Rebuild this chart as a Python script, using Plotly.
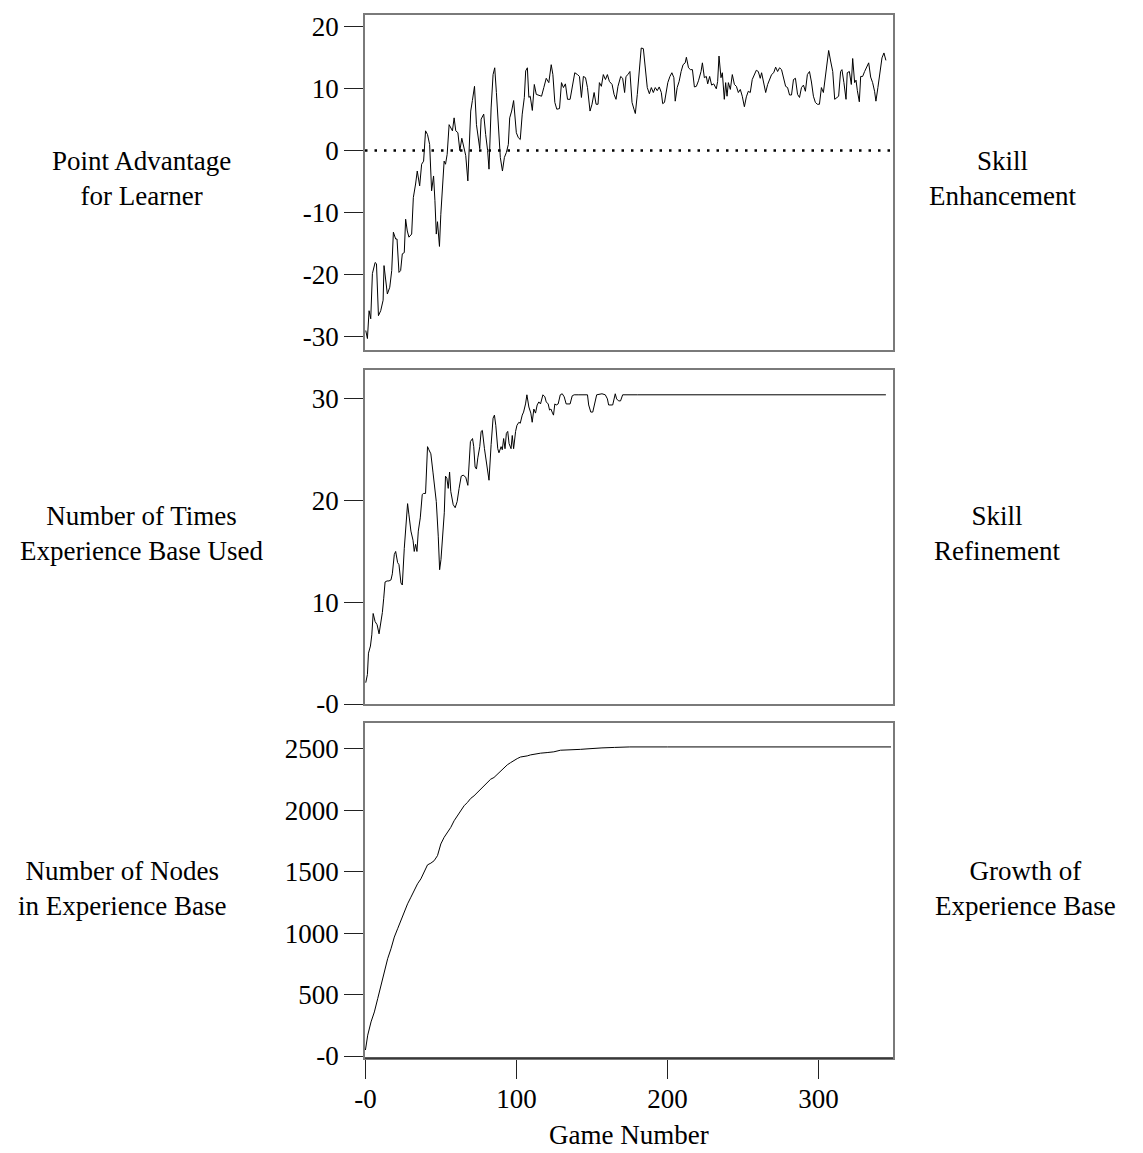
import plotly.graph_objects as go
from plotly.subplots import make_subplots

# ---------------- data ----------------
adv_game = [0.2, 1.3, 2.4, 3.5, 4.6, 6.4, 7.3, 8.6, 10.1, 11.7, 12.3, 14.5, 16.1, 17.4, 18.5, 20.0, 20.9,
            22.2, 23.3, 24.4, 25.7, 26.6, 27.7, 28.8, 30.6, 31.7, 33.2, 34.3, 35.9, 37.2, 38.5, 39.8,
            41.1, 42.5, 43.8, 45.1, 46.0, 46.9, 47.7, 49.0, 49.9, 51.3, 52.1, 53.0, 54.1, 55.4, 57.6,
            58.7, 59.8, 61.2, 62.5, 63.8, 65.1, 66.4, 67.8, 68.6, 69.7, 70.8, 72.2, 73.5, 74.8, 75.7,
            76.6, 78.3, 79.6, 80.9, 81.8, 83.2, 84.5, 85.6, 86.7, 88.0, 89.3, 90.7, 92.0, 93.3, 94.6,
            95.5, 96.8, 98.1, 99.0, 99.9, 101.2, 102.5, 103.8, 105.2, 106.1, 107.2, 108.2, 109.1, 110.5,
            111.8, 113.1, 114.8, 116.6, 118.1, 119.7, 121.4, 123.0, 124.1, 125.4, 126.7, 128.5, 129.8,
            131.1, 132.4, 133.8, 135.5, 136.9, 138.6, 140.4, 141.7, 143.0, 144.3, 145.7, 147.0, 148.7,
            150.0, 151.4, 152.7, 154.0, 154.9, 156.2, 157.5, 158.9, 160.2, 161.5, 163.3, 164.6, 165.9,
            167.2, 169.0, 170.3, 171.6, 172.5, 173.8, 175.1, 176.5, 177.8, 178.7, 180.0, 181.3, 182.6,
            184.0, 185.3, 186.6, 188.0, 189.3, 190.6, 191.9, 193.2, 194.5, 195.9, 196.8, 198.0, 198.9,
            200.2, 201.6, 202.9, 204.2, 205.1, 206.4, 207.7, 209.0, 210.3, 211.7, 212.5, 213.9, 215.2,
            216.5, 217.8, 219.1, 220.5, 222.2, 223.1, 224.4, 225.7, 226.6, 227.9, 229.2, 230.6, 232.3,
            233.2, 234.1, 235.4, 236.3, 237.6, 238.5, 239.4, 240.3, 241.6, 242.9, 244.3, 245.6, 246.9,
            248.2, 249.5, 250.9, 252.2, 253.5, 254.8, 256.1, 257.5, 258.8, 260.1, 261.4, 262.3, 263.6,
            265.0, 266.3, 267.6, 268.9, 270.3, 271.6, 272.9, 274.2, 275.5, 276.8, 278.2, 279.5, 280.8,
            282.1, 283.4, 284.7, 286.1, 287.4, 288.7, 290.0, 291.3, 292.6, 294.0, 295.3, 296.6, 297.9,
            299.2, 300.6, 301.9, 303.2, 304.1, 305.4, 306.7, 308.0, 309.4, 310.7, 312.0, 313.3, 314.6,
            315.5, 316.8, 318.2, 319.0, 320.4, 321.7, 322.6, 323.9, 324.8, 325.7, 327.0, 327.9, 329.2,
            330.5, 331.8, 333.2, 334.5, 335.8, 337.1, 338.0, 339.3, 340.7, 342.0, 343.3, 344.6]
adv_value = [-29.1, -30.4, -25.9, -27.2, -19.9, -18.1, -18.3, -26.7, -25.9, -24.2, -18.6, -23.2, -22.1,
             -19.4, -13.2, -14.3, -14.3, -19.7, -19.4, -16.7, -16.5, -11.1, -13.0, -14.0, -13.5, -7.6,
             -5.4, -3.3, -5.7, -2.2, -1.7, 3.2, 2.6, 1.0, -6.5, -4.1, -8.1, -13.5, -11.5, -15.5, -10.3,
             -3.3, -1.7, -2.2, -0.6, 4.2, 3.2, 5.3, 3.2, 2.9, 0.0, 2.0, 0.5, -0.8, -4.9, -1.1, 6.4, 8.1,
             10.4, 4.2, 2.1, 0.3, 5.1, 5.9, 2.6, 0.0, -3.0, 6.9, 12.3, 13.4, 9.4, 3.2, -1.1, -3.3, -1.1,
             -0.3, 1.0, 5.3, 6.4, 8.1, 5.9, 2.9, 2.1, 1.8, 5.9, 8.6, 12.9, 13.4, 8.6, 8.8, 6.5, 10.7,
             9.1, 9.0, 8.8, 10.2, 11.7, 11.0, 13.9, 12.3, 7.8, 6.7, 6.8, 11.0, 10.2, 10.8, 8.3, 8.3,
             10.2, 12.6, 12.3, 12.0, 8.6, 12.0, 11.8, 10.2, 6.4, 7.5, 9.4, 7.5, 7.5, 11.0, 10.4, 12.3,
             11.5, 12.3, 11.2, 10.7, 9.1, 8.3, 10.4, 12.0, 11.7, 9.4, 12.0, 12.3, 12.8, 7.8, 6.7, 6.0,
             9.1, 13.4, 16.6, 16.5, 13.4, 10.2, 9.2, 10.2, 9.4, 10.2, 9.7, 10.3, 9.4, 7.6, 7.8, 9.2,
             11.0, 12.0, 12.6, 11.8, 8.0, 10.2, 11.2, 12.8, 13.9, 14.2, 15.1, 13.4, 13.1, 13.1, 10.3,
             10.4, 11.3, 12.8, 14.2, 11.8, 12.0, 10.8, 12.0, 10.6, 10.8, 10.0, 11.2, 15.3, 11.8, 12.6,
             8.3, 11.0, 8.8, 11.0, 9.9, 12.3, 10.7, 10.4, 9.4, 9.9, 8.8, 7.1, 8.7, 9.6, 9.4, 11.5, 12.3,
             13.0, 12.8, 11.7, 12.6, 11.0, 9.4, 10.7, 11.5, 12.3, 12.6, 13.5, 12.8, 13.4, 13.1, 11.8,
             10.4, 10.2, 9.0, 9.0, 11.5, 11.7, 9.1, 8.6, 10.2, 10.6, 9.6, 12.3, 12.8, 11.1, 8.8, 7.8,
             7.5, 7.5, 10.2, 9.4, 11.2, 14.5, 16.2, 14.5, 12.8, 8.3, 8.5, 8.8, 12.8, 13.1, 11.0, 8.3,
             12.6, 12.8, 10.7, 14.9, 11.0, 11.4, 9.7, 7.9, 12.0, 12.0, 12.8, 13.4, 14.2, 11.9, 11.0,
             9.6, 8.0, 10.2, 12.3, 15.0, 15.8, 14.6]

used_game = [0.2, 1.3, 2.0, 3.3, 4.2, 5.1, 6.4, 7.7, 9.0, 9.9, 11.2, 12.1, 13.0, 14.3, 15.6, 16.9, 17.8,
             19.1, 20.0, 21.3, 22.2, 23.5, 24.4, 25.7, 27.1, 27.9, 28.8, 30.1, 31.5, 32.3, 33.2, 34.1,
             35.0, 36.3, 37.6, 38.5, 39.8, 41.1, 42.0, 43.3, 44.7, 46.0, 46.9, 48.2, 49.1, 50.0, 51.3,
             52.2, 53.0, 53.9, 54.8, 55.7, 56.5, 58.1, 59.4, 60.7, 62.0, 63.4, 64.7, 66.4, 67.8, 68.6,
             69.5, 70.9, 71.7, 72.6, 73.5, 74.4, 75.7, 76.6, 77.4, 78.8, 80.1, 81.4, 81.8, 83.2, 84.5,
             85.4, 86.3, 87.6, 88.4, 89.8, 90.6, 91.5, 92.4, 93.3, 94.2, 95.1, 96.4, 97.2, 98.1, 99.4,
             100.3, 101.6, 102.5, 103.8, 104.7, 106.0, 106.9, 108.2, 109.5, 110.4, 111.5, 112.6, 113.7,
             114.8, 115.9, 117.5, 118.8, 119.7, 121.0, 121.9, 122.8, 123.6, 124.5, 125.4, 126.3, 127.6,
             129.0, 130.3, 131.6, 132.9, 134.2, 135.5, 136.9, 138.2, 141.3, 143.9, 147.0, 147.8, 149.2,
             150.5, 151.8, 153.1, 156.6, 158.8, 160.2, 161.0, 163.7, 164.6, 165.4, 166.3, 167.6, 168.9,
             170.3, 180.0, 195.0, 210.0, 225.0, 240.0, 255.0, 270.0, 285.0, 300.0, 315.0, 330.0, 344.6]
used_value = [2.1, 2.9, 5.0, 5.7, 6.8, 8.9, 8.1, 7.8, 6.9, 7.6, 9.0, 10.4, 12.0, 12.1, 12.1, 12.2, 12.8,
              14.7, 15.0, 13.9, 13.7, 11.9, 11.7, 15.3, 17.9, 19.7, 18.6, 17.0, 16.1, 15.0, 15.7, 15.0,
              17.0, 18.3, 20.6, 20.7, 20.7, 25.3, 25.0, 24.6, 22.8, 21.0, 19.9, 16.5, 13.2, 14.2, 17.0,
              18.8, 22.4, 22.2, 21.2, 22.8, 20.9, 19.6, 19.3, 19.9, 21.2, 22.4, 22.5, 22.3, 21.5, 23.2,
              25.8, 26.1, 25.3, 23.3, 23.1, 24.2, 25.3, 26.8, 26.9, 25.1, 23.8, 22.8, 22.0, 25.5, 28.1,
              28.4, 27.4, 25.1, 24.7, 25.3, 25.0, 26.1, 25.1, 26.6, 26.8, 25.6, 25.1, 26.4, 25.1, 26.8,
              27.4, 27.7, 27.6, 28.4, 28.7, 29.5, 30.4, 29.2, 28.6, 27.7, 29.0, 28.6, 29.4, 29.7, 29.5,
              30.4, 30.2, 29.7, 29.5, 28.9, 29.0, 28.7, 28.4, 29.5, 29.4, 29.5, 30.4, 30.5, 30.2, 29.5,
              29.5, 29.5, 30.3, 30.4, 30.4, 30.4, 30.4, 29.4, 28.7, 28.7, 29.7, 30.4, 30.5, 30.4, 30.0,
              29.4, 29.4, 30.0, 30.5, 30.0, 29.8, 29.8, 30.4, 30.4, 30.4, 30.4, 30.4, 30.4, 30.4, 30.4,
              30.4, 30.4, 30.4, 30.4, 30.4]

nodes_game = [0.0, 1.5, 3.7, 5.9, 8.1, 10.3, 12.5, 14.7, 16.9, 19.1, 21.3, 23.5, 25.7, 27.9, 30.1, 32.3,
              34.5, 36.7, 38.9, 41.1, 43.3, 45.5, 47.7, 49.9, 52.1, 54.3, 56.5, 58.7, 60.9, 63.1, 65.3,
              67.5, 69.7, 71.9, 74.1, 76.3, 78.5, 80.7, 82.9, 85.1, 87.3, 89.5, 91.7, 93.9, 96.1, 98.3,
              100.5, 102.7, 104.9, 107.1, 109.3, 111.5, 115.9, 120.3, 124.7, 129.1, 133.5, 137.9, 142.3,
              146.7, 151.1, 156.6, 165.0, 175.0, 200.0, 250.0, 300.0, 348.0]
nodes_value = [49, 170, 278, 359, 467, 576, 684, 792, 873, 968, 1036, 1104, 1185, 1239, 1293, 1347, 1402,
               1442, 1502, 1556, 1570, 1590, 1631, 1726, 1780, 1820, 1861, 1915, 1956, 1996, 2037, 2064,
               2097, 2118, 2145, 2172, 2194, 2226, 2253, 2267, 2294, 2321, 2348, 2370, 2388, 2407, 2421,
               2434, 2437, 2443, 2451, 2457, 2465, 2470, 2476, 2489, 2490, 2494, 2496, 2500, 2505, 2508,
               2512, 2516, 2516, 2516, 2516, 2516]

x_ticks = [0, 100, 200, 300]
x_ticktext = ["-0", "100", "200", "300"]
adv_ticks = [20, 10, 0, -10, -20, -30]
adv_ticktext = ["20", "10", "0", "-10", "-20", "-30"]
used_ticks = [30, 20, 10, 0]
used_ticktext = ["30", "20", "10", "-0"]
nodes_ticks = [2500, 2000, 1500, 1000, 500, 0]
nodes_ticktext = ["2500", "2000", "1500", "1000", "500", "-0"]

left_labels = ["Point Advantage<br>for Learner", "Number of Times<br>Experience Base Used",
               "Number of Nodes<br>in Experience Base"]
right_labels = ["Skill<br>Enhancement", "Skill<br>Refinement", "Growth of<br>Experience Base"]
x_title = "Game Number"

# ---------------- figure ----------------
OFF = 8                      # page body margin of the html page
W, H = 1143 - OFF, 1153 - OFF
PL, PR, PT, PB = 365, 893, 12, 1058   # plot area in window pixels (reference)
L, R, T, B = PL - OFF, W - (PR - OFF), PT - OFF, H - (PB - OFF)
PH = H - T - B
PW = W - L - R
FONT = "Liberation Serif"
FS = 27

fig = make_subplots(rows=3, cols=1, shared_xaxes=False, vertical_spacing=0.02)

line = dict(color="black", width=1)
fig.add_trace(go.Scatter(x=adv_game, y=adv_value, mode="lines", line=line, showlegend=False), row=1, col=1)
fig.add_trace(go.Scatter(x=used_game, y=used_value, mode="lines", line=line, showlegend=False), row=2, col=1)
fig.add_trace(go.Scatter(x=nodes_game, y=nodes_value, mode="lines", line=line, showlegend=False), row=3, col=1)

def py2paper(py):
    return (PB - py) / PH

def px2paper(px):
    return (px - PL) / PW

domains = [[py2paper(348), py2paper(12)], [py2paper(703), py2paper(368)], [py2paper(1058), py2paper(722)]]
yranges = [[-32.26, 21.94], [0, 32.84], [-16, 2711]]
yticks = [(adv_ticks, adv_ticktext), (used_ticks, used_ticktext), (nodes_ticks, nodes_ticktext)]

frame = "#7a7a7a"
for i in range(3):
    ax = "" if i == 0 else str(i + 1)
    fig.layout["yaxis" + ax].update(
        domain=domains[i], range=yranges[i], tickmode="array",
        tickvals=yticks[i][0], ticktext=yticks[i][1],
        ticks="outside", ticklen=19, tickwidth=1, tickcolor="#222",
        showline=True, linecolor=frame, linewidth=1.5, mirror=True,
        showgrid=False, zeroline=False,
        tickfont=dict(family=FONT, size=FS, color="black"),
    )
    fig.layout["xaxis" + ax].update(
        range=[-0.3, 349.3], showline=True, linecolor=frame, linewidth=1.5, mirror=True,
        showgrid=False, zeroline=False,
    )
    if i < 2:
        fig.layout["xaxis" + ax].update(showticklabels=False, ticks="")
    else:
        fig.layout["xaxis" + ax].update(
            tickmode="array", tickvals=x_ticks, ticktext=x_ticktext,
            ticks="outside", ticklen=19, tickwidth=1, tickcolor="#222",
            ticklabelstandoff=-3,
            tickfont=dict(family=FONT, size=FS, color="black"),
        )

# dotted zero reference line in the top panel
fig.add_shape(type="line", xref="x domain", yref="y", x0=0, x1=1, y0=0, y1=0,
              line=dict(color="black", width=2.5, dash="2.5px,7px"))
# darker base line of the bottom panel
fig.add_shape(type="line", xref="x3 domain", yref="y3 domain", x0=0, x1=1, y0=0, y1=0,
              line=dict(color="#222", width=1.5))

ann_y = [176, 532, 888]
left_x = [141, 141, 122]
right_x = [1002, 997, 1025]
for i in range(3):
    fig.add_annotation(text=left_labels[i], x=px2paper(left_x[i]), y=py2paper(ann_y[i]),
                       xref="paper", yref="paper", showarrow=False, xanchor="center", yanchor="middle",
                       font=dict(family=FONT, size=FS, color="black"))
    fig.add_annotation(text=right_labels[i], x=px2paper(right_x[i]), y=py2paper(ann_y[i]),
                       xref="paper", yref="paper", showarrow=False, xanchor="center", yanchor="middle",
                       font=dict(family=FONT, size=FS, color="black"))
fig.add_annotation(text=x_title, x=px2paper(629), y=py2paper(1135), xref="paper", yref="paper",
                   showarrow=False, xanchor="center", yanchor="middle",
                   font=dict(family=FONT, size=FS, color="black"))

fig.update_layout(width=W, height=H, margin=dict(l=L, r=R, t=T, b=B),
                  paper_bgcolor="white", plot_bgcolor="white",
                  font=dict(family=FONT, size=FS, color="black"))

fig.write_html("out.html")
